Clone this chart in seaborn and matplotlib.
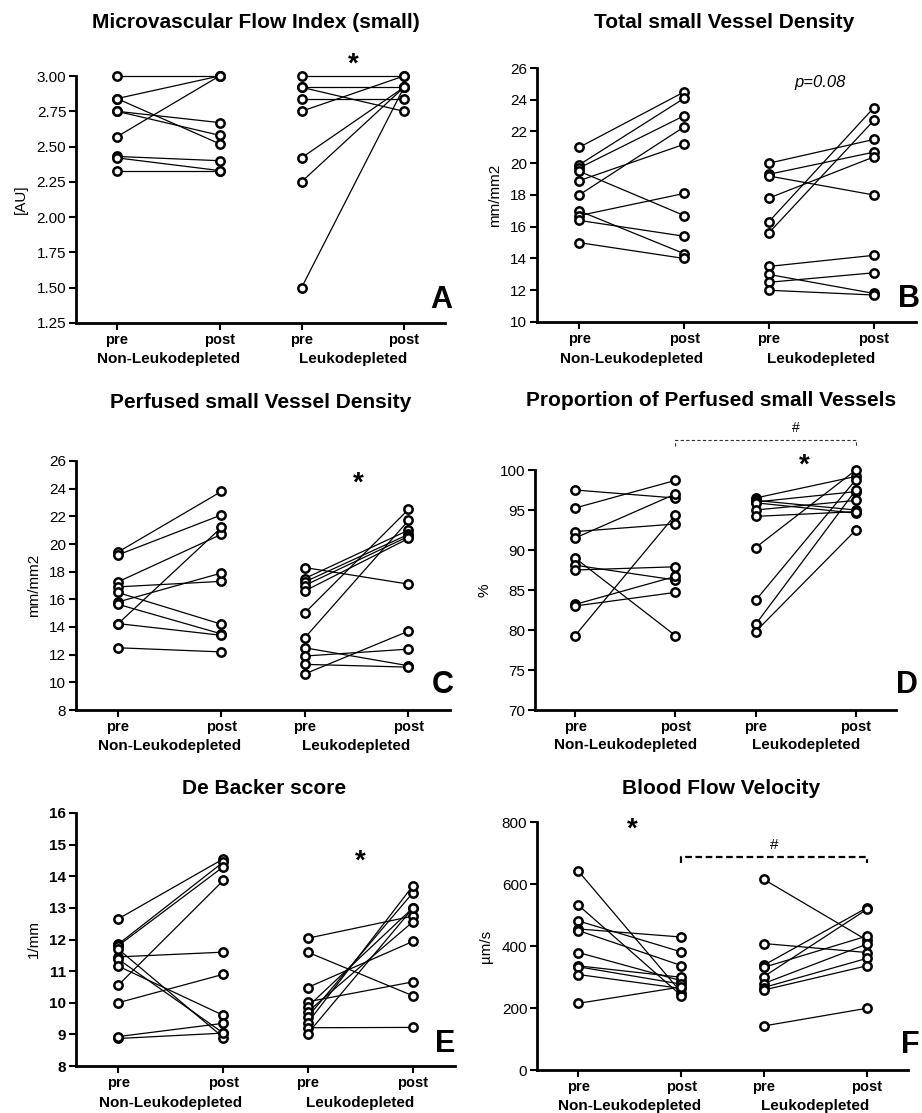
import numpy as np
import pandas as pd
import seaborn as sns
import matplotlib.pyplot as plt

sns.set_style("ticks")
plt.rcParams['font.family'] = ['Liberation Sans', 'DejaVu Sans']
for k in ("text.color", "axes.labelcolor", "xtick.color", "ytick.color", "axes.edgecolor"):
    plt.rcParams[k] = "black"

# x order: pre / post for each group
tick_labels = ["pre", "post", "pre", "post"]
groups = ["Non-Leukodepleted", "Leukodepleted"]

# A - Microvascular Flow Index (small)
mfi_nl_pre = [3.00, 2.84, 2.84, 2.75, 2.75, 2.57, 2.43, 2.42, 2.33]
mfi_nl_post = [3.00, 3.00, 2.52, 2.67, 2.58, 3.00, 2.40, 2.33, 2.33]
mfi_l_pre = [3.00, 2.92, 2.92, 2.84, 2.75, 2.42, 2.25, 1.50]
mfi_l_post = [3.00, 2.92, 2.75, 2.84, 3.00, 2.92, 2.92, 2.92]

# B - Total small Vessel Density
tvd_nl_pre = [21.0, 19.9, 19.7, 19.5, 18.9, 18.0, 17.0, 16.7, 16.4, 15.0]
tvd_nl_post = [24.5, 24.1, 23.0, 16.7, 21.2, 22.3, 14.3, 18.1, 15.4, 14.0]
tvd_l_pre = [20.0, 19.3, 19.2, 17.8, 16.3, 15.6, 13.5, 13.0, 12.5, 12.0]
tvd_l_post = [21.5, 20.7, 18.0, 20.4, 23.5, 22.7, 14.2, 11.8, 13.1, 11.7]

# C - Perfused small Vessel Density
pvd_nl_pre = [19.4, 19.2, 17.25, 16.9, 16.5, 15.8, 15.65, 14.25, 14.2, 12.5]
pvd_nl_post = [23.8, 22.1, 20.7, 17.3, 14.2, 17.9, 13.5, 13.4, 21.2, 12.2]
pvd_l_pre = [18.3, 17.5, 17.25, 17.0, 16.6, 15.0, 13.2, 12.5, 11.9, 11.3, 10.6]
pvd_l_post = [17.1, 21.0, 20.7, 20.55, 20.4, 22.5, 21.7, 11.2, 12.4, 11.1, 13.7]

# D - Proportion of Perfused small Vessels
ppv_nl_pre = [97.5, 95.25, 92.3, 91.5, 89.0, 88.1, 87.5, 83.2, 83.0, 79.3]
ppv_nl_post = [96.5, 98.7, 93.25, 97.0, 79.3, 86.25, 87.9, 86.7, 84.7, 94.4]
ppv_l_pre = [96.5, 96.2, 96.0, 95.9, 95.0, 94.2, 90.3, 83.7, 80.7, 79.8]
ppv_l_post = [99.2, 95.0, 97.3, 94.6, 96.2, 94.8, 100.0, 98.8, 97.5, 92.5]

# E - De Backer score
dbs_nl_pre = [12.65, 11.85, 11.8, 10.55, 11.45, 11.7, 11.38, 11.16, 10.0, 8.93, 8.87]
dbs_nl_post = [14.55, 14.45, 14.3, 13.87, 11.6, 8.9, 9.04, 9.6, 10.9, 9.35, 9.04]
dbs_l_pre = [12.04, 11.6, 10.48, 10.03, 9.87, 9.71, 9.55, 9.36, 9.21, 9.02]
dbs_l_post = [12.74, 10.22, 11.94, 10.66, 13.0, 12.56, 13.48, 13.7, 9.22, 12.99]

# F - Blood Flow Velocity
bfv_nl_pre = [642, 532, 481, 455, 450, 379, 336, 333, 308, 215]
bfv_nl_post = [250, 240, 381, 429, 337, 288, 299, 277, 263, 268]
bfv_l_pre = [615, 408, 338, 331, 301, 279, 266, 258, 142]
bfv_l_post = [419, 379, 523, 432, 518, 406, 360, 336, 199]

positions = [0, 1, 1.8, 2.8]


def long_df(nl_pre, nl_post, l_pre, l_post):
    rows = []
    for i, (a, b) in enumerate(zip(nl_pre, nl_post)):
        rows.append(("nl%d" % i, positions[0], a))
        rows.append(("nl%d" % i, positions[1], b))
    for i, (a, b) in enumerate(zip(l_pre, l_post)):
        rows.append(("l%d" % i, positions[2], a))
        rows.append(("l%d" % i, positions[3], b))
    return pd.DataFrame(rows, columns=["pair", "x", "value"])


W, H = 922, 1113
fig = plt.figure(figsize=(W / 100, H / 100), dpi=100)


def make_ax(left, right, top, bottom):
    return fig.add_axes([left / W, 1 - bottom / H, (right - left) / W, (bottom - top) / H])


panels = [
    dict(box=(76, 445, 76, 323), data=(mfi_nl_pre, mfi_nl_post, mfi_l_pre, mfi_l_post),
         title="Microvascular Flow Index (small)", tpos=(256, 22), ylabel="[AU]",
         ylim=(1.25, 3.0), step=0.25, fmt="%.2f", letter="A", lpos=(1.02, 0.06), bold_ticks=False),
    dict(box=(537, 916, 68, 322), data=(tvd_nl_pre, tvd_nl_post, tvd_l_pre, tvd_l_post),
         title="Total small Vessel Density", tpos=(724, 23), ylabel="mm/mm2",
         ylim=(10, 26), step=2, fmt="%d", letter="B", lpos=(1.01, 0.06), bold_ticks=False),
    dict(box=(76, 450, 461, 710), data=(pvd_nl_pre, pvd_nl_post, pvd_l_pre, pvd_l_post),
         title="Perfused small Vessel Density", tpos=(261, 402), ylabel="mm/mm2",
         ylim=(8, 26), step=2, fmt="%d", letter="C", lpos=(1.01, 0.07), bold_ticks=False),
    dict(box=(535, 896, 470, 710), data=(ppv_nl_pre, ppv_nl_post, ppv_l_pre, ppv_l_post),
         title="Proportion of Perfused small Vessels", tpos=(711, 400), ylabel="%",
         ylim=(70, 100), step=5, fmt="%d", letter="D", lpos=(1.06, 0.07), bold_ticks=False),
    dict(box=(76, 455, 813, 1066), data=(dbs_nl_pre, dbs_nl_post, dbs_l_pre, dbs_l_post),
         title="De Backer score", tpos=(264, 788), ylabel="1/mm",
         ylim=(8, 16), step=1, fmt="%d", letter="E", lpos=(1.0, 0.055), bold_ticks=True),
    dict(box=(537, 908, 822, 1070), data=(bfv_nl_pre, bfv_nl_post, bfv_l_pre, bfv_l_post),
         title="Blood Flow Velocity", tpos=(721, 788), ylabel="\u00b5m/s",
         ylim=(0, 800), step=200, fmt="%d", letter="F", lpos=(1.03, 0.07), bold_ticks=False),
]

axes = []
for p in panels:
    ax = make_ax(*p["box"])
    axes.append(ax)
    df = long_df(*p["data"])
    sns.lineplot(data=df, x="x", y="value", units="pair", estimator=None, ax=ax,
                 color="black", linewidth=0.9, marker="o", markersize=6,
                 markerfacecolor="white", markeredgecolor="black",
                 markeredgewidth=1.8, clip_on=False)
    ax.set_xlim(-0.4, 3.2)
    ax.set_ylim(*p["ylim"])
    yt = np.arange(p["ylim"][0], p["ylim"][1] + p["step"] / 2, p["step"])
    ax.set_yticks(yt)
    ax.set_yticklabels([p["fmt"] % v for v in yt], fontsize=11,
                       fontweight="bold" if p["bold_ticks"] else "normal")
    ax.set_xticks(positions)
    ax.set_xticklabels(tick_labels, fontsize=10.5, fontweight="bold")
    ax.set_xlabel("")
    ax.set_ylabel(p["ylabel"], fontsize=11, labelpad=6)
    fig.text(p["tpos"][0] / W, 1 - p["tpos"][1] / H, p["title"], ha="center", va="center",
             fontsize=15, fontweight="bold")
    sns.despine(ax=ax)
    for s in ("left", "bottom"):
        ax.spines[s].set_linewidth(2)
    ax.tick_params(axis="both", width=1.5, length=5, pad=2)
    ax.text(0.5, -0.145, groups[0], transform=ax.get_xaxis_transform(),
            ha="center", va="center", fontsize=11, fontweight="bold")
    ax.text(2.3, -0.145, groups[1], transform=ax.get_xaxis_transform(),
            ha="center", va="center", fontsize=11, fontweight="bold")
    ax.text(p["lpos"][0], p["lpos"][1], p["letter"], transform=ax.transAxes,
            ha="right", va="baseline", fontsize=22, fontweight="bold")

axA, axB, axC, axD, axE, axF = axes

# significance marks
star = dict(ha="center", va="center", fontsize=20, fontweight="bold", clip_on=False)
axA.text(2.31, 3.08, "*", **star)
axC.text(2.32, 24.4, "*", **star)
axD.text(2.29, 100.6, "*", **star)
axE.text(2.3, 14.45, "*", **star)
axF.text(0.52, 775, "*", **star)
axB.text(2.29, 25.06, "p=0.08", ha="center", va="center", fontsize=12, style="italic")

# brackets
axD.plot([positions[1], positions[1], positions[3], positions[3]], [103.0, 103.75, 103.75, 103.0],
         color="#333333", linewidth=0.8, linestyle=(0, (3, 2)), clip_on=False)
axD.text(2.2, 105.2, "#", ha="center", va="center", fontsize=10)
axF.plot([positions[1], positions[1], positions[3], positions[3]], [668, 687, 687, 668],
         color="black", linewidth=1.6, linestyle=(0, (3, 1.6)), clip_on=False)
axF.text(1.9, 725, "#", ha="center", va="center", fontsize=11)

fig.savefig("out.png", dpi=100)
